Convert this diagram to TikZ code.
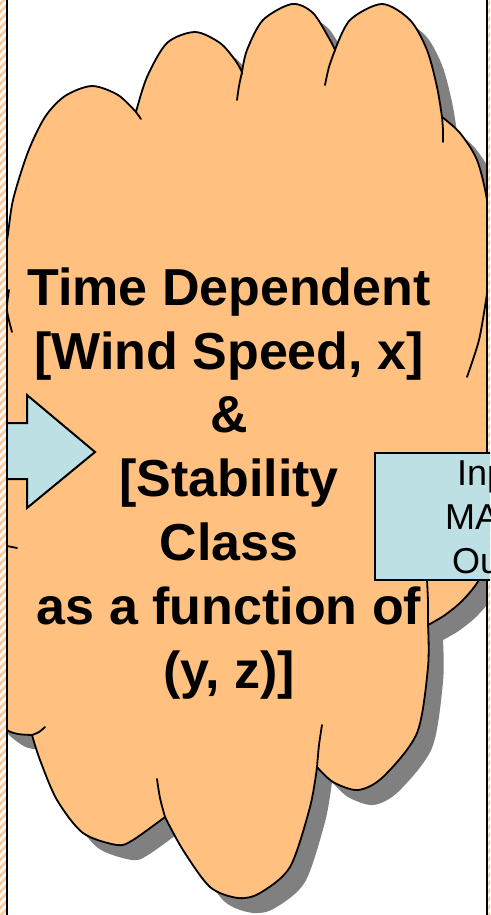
\documentclass[tikz,border=0pt]{standalone}
\usepackage{fontspec}
\newfontfamily\lsans{Liberation Sans}
\definecolor{cloudfill}{RGB}{255,192,128}
\definecolor{boxfill}{RGB}{188,224,228}
\definecolor{shadowgray}{RGB}{128,128,128}
\definecolor{hatchcol}{RGB}{252,205,160}
\tikzset{
  outline/.style={draw=black, line width=1.8pt},
  tail/.style={draw=black, line width=1.8pt, line cap=round},
  border/.style={draw=black, line width=2.5pt},
  arrowshape/.style={fill=boxfill, draw=black, line width=2pt, line join=miter},
  maintext/.style={font=\lsans\bfseries\fontsize{52}{63.8}\selectfont, align=center, anchor=base, inner sep=0pt},
  boxtext/.style={font=\lsans\fontsize{36}{44}\selectfont, anchor=base west, inner sep=0pt},
}
\def\cloudpath{plot[smooth] coordinates {(-20,300) (0,265) (7,240) (13,200) (28,152) (45,117) (65,96) (92,86) (118,95) (136,112)}
 -- plot[smooth] coordinates {(136,112) (147,77) (167,43) (195,32) (220,43) (235,60) (242,72)}
 -- plot[smooth] coordinates {(242,72) (247,50) (263,20) (292,4) (313,13) (330,40) (335,50)}
 -- plot[smooth] coordinates {(335,50) (350,20) (382,4) (410,20) (427,50) (437,87) (442,117)}
 -- plot[smooth] coordinates {(442,117) (460,133) (477,160) (487,200) (492,250) (486,300)}
 -- plot[smooth] coordinates {(486,300) (497,350) (502,450) (494,540) (480,578) (463,600) (445,615) (428,625)}
 -- plot[smooth] coordinates {(428,625) (428,667) (417,733) (383,777) (358,790) (333,782) (317,767)}
 -- plot[smooth] coordinates {(317,767) (310,807) (290,867) (260,893) (238,898) (210,887) (183,850) (165,817)}
 -- plot[smooth] coordinates {(165,817) (133,840) (117,845) (83,833) (57,800) (40,760) (32,735)}
 -- plot[smooth] coordinates {(32,735) (18,734) (7,730) (-10,715) (-25,680)}
 -- (-25,300) -- cycle}
\begin{document}
\begin{tikzpicture}[x=1pt,y=-1pt]
\useasboundingbox (0,0) rectangle (490,915);
\begin{scope}
\clip (0,0) rectangle (490,915);
% hatched margins
\begin{scope}
\clip (0,0) rectangle (6,915);
\foreach \i in {-12,-4,...,940} \draw[hatchcol, line width=3pt] (-4,\i+4) -- (12,\i-12);
\end{scope}
\begin{scope}
\clip (488,0) rectangle (490,915);
\foreach \i in {-12,-4,...,940} \draw[hatchcol, line width=3pt] (484,\i+4) -- (500,\i-12);
\end{scope}
% cloud
\begin{scope}
\clip (7,0) rectangle (487,915);
\fill[shadowgray, shift={(15,15)}] \cloudpath;
\path[fill=cloudfill, outline] \cloudpath;
\draw[tail] (136,112) -- (141,119);
\draw[tail] plot[smooth] coordinates {(242,72) (239,86) (237,100)};
\draw[tail] plot[smooth] coordinates {(335,50) (329,67) (325,85)};
\draw[tail] plot[smooth] coordinates {(442,117) (443,130) (443,142)};
\draw[tail] plot[smooth] coordinates {(486,300) (479,340) (467,377)};
\draw[tail] plot[smooth] coordinates {(428,625) (428,602) (427,580)};
\draw[tail] plot[smooth] coordinates {(317,767) (319,745) (322,725)};
\draw[tail] plot[smooth] coordinates {(165,817) (160,798) (157,779)};
\draw[tail] plot[smooth] coordinates {(32,735) (39,732) (45,727)};
\draw[tail] plot[smooth] coordinates {(9,290) (7,310) (12,332)};
\draw[tail] (7,546) -- (17,548);
\end{scope}
\node[maintext] (cloudtext) at (229,688) {Time Dependent\\{[}Wind Speed, x]\\\&\\{[}Stability\\Class\\as a function of\\(y, z)]};
% arrow
\path[arrowshape] (7,423) -- (27,423) -- (27,395) -- (95,452) -- (27,508) -- (27,479) -- (7,479);
% borders
\draw[border] (7,0) -- (7,915);
\draw[border] (487,0) -- (487,915);
% box
\node[fill=boxfill, draw=black, line width=2pt, minimum width=150pt, minimum height=127pt, anchor=north west, inner sep=0pt] (mbox) at (374,452) {};
\node[boxtext] (b1) at (457,485) {Inp};
\node[boxtext] (b2) at (445,529) {MA};
\node[boxtext] (b3) at (452,573) {Ou};
\end{scope}
\end{tikzpicture}
\end{document}
